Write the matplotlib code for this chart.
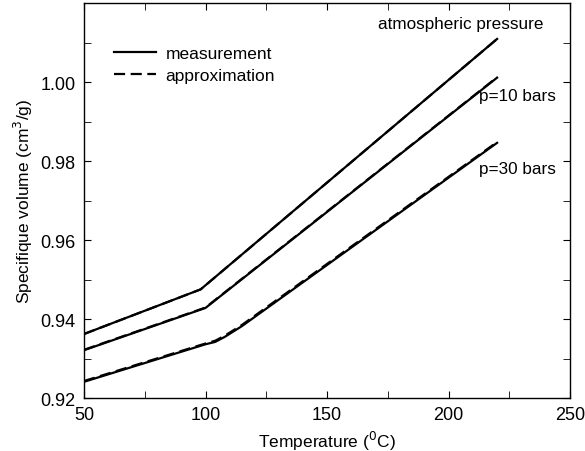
import matplotlib
matplotlib.use('Agg')
import matplotlib.pyplot as plt
from matplotlib.ticker import MultipleLocator, FixedLocator

plt.rcParams['font.family'] = ['Liberation Sans', 'DejaVu Sans']

# measured curves (temperature in degC, specific volume in cm3/g)
t_atm = [50, 98, 220]
v_atm = [0.9362, 0.9475, 1.0109]
t_10 = [50, 100, 220]
v_10 = [0.9321, 0.9428, 1.0011]
t_30 = [50, 100, 104, 108, 115, 220]
v_30 = [0.9241, 0.9336, 0.9342, 0.9355, 0.9382, 0.9846]

# approximations
ta_atm = [50, 98, 220]
va_atm = [0.9362, 0.9475, 1.0109]
ta_10 = [50, 100, 220]
va_10 = [0.9322, 0.9429, 1.0012]
ta_30 = [50, 100, 104, 108, 115, 220]
va_30 = [0.9243, 0.9338, 0.9345, 0.9358, 0.9385, 0.9848]

labels = ['atmospheric pressure', 'p=10 bars', 'p=30 bars']
y_ticks = [0.92, 0.94, 0.96, 0.98, 1.00]


def main():
	fig = plt.figure(figsize=(5.85, 4.52), dpi=100)
	ax = fig.add_axes([84 / 585, 1 - 399 / 452, (570 - 84) / 585, (399 - 4) / 452])

	lw = 1.6
	dash = (0, (5, 2.5))
	ax.plot(t_atm, v_atm, color='black', lw=lw, label='measurement')
	ax.plot(ta_atm, va_atm, color='black', lw=lw, ls=dash, label='approximation')
	for t, v in [(t_10, v_10), (t_30, v_30)]:
		ax.plot(t, v, color='black', lw=lw)
	for t, v in [(ta_10, va_10), (ta_30, va_30)]:
		ax.plot(t, v, color='black', lw=lw, ls=dash)

	ax.text(239, 1.0149, labels[0], ha='right', va='center', fontsize=12.3)
	ax.text(244, 0.9967, labels[1], ha='right', va='center', fontsize=12.3)
	ax.text(244, 0.9781, labels[2], ha='right', va='center', fontsize=12.3)

	ax.set_xlim(50, 250)
	ax.set_ylim(0.92, 1.02)
	ax.xaxis.set_major_locator(MultipleLocator(50))
	ax.xaxis.set_minor_locator(MultipleLocator(25))
	ax.yaxis.set_major_locator(FixedLocator(y_ticks))
	ax.yaxis.set_minor_locator(FixedLocator([0.93, 0.95, 0.97, 0.99, 1.01]))
	ax.yaxis.set_major_formatter(matplotlib.ticker.FormatStrFormatter('%.2f'))
	ax.tick_params(which='both', direction='in', top=True, right=True, labelsize=13, pad=6)
	ax.tick_params(which='major', length=5)
	ax.tick_params(which='minor', length=5)
	for s in ax.spines.values():
		s.set_linewidth(1.0)

	ax.set_xlabel('Temperature ($^{0}$C)', fontsize=12.5)
	ax.set_ylabel('Specifique volume (cm$^{3}$/g)', fontsize=12.5)

	ax.legend(loc='upper left', bbox_to_anchor=(0.03, 0.93), frameon=False, fontsize=12.5,
		handlelength=2.4, handletextpad=0.55, labelspacing=0.35)

	fig.savefig('out.png', dpi=100)


if __name__ == '__main__':
	main()
